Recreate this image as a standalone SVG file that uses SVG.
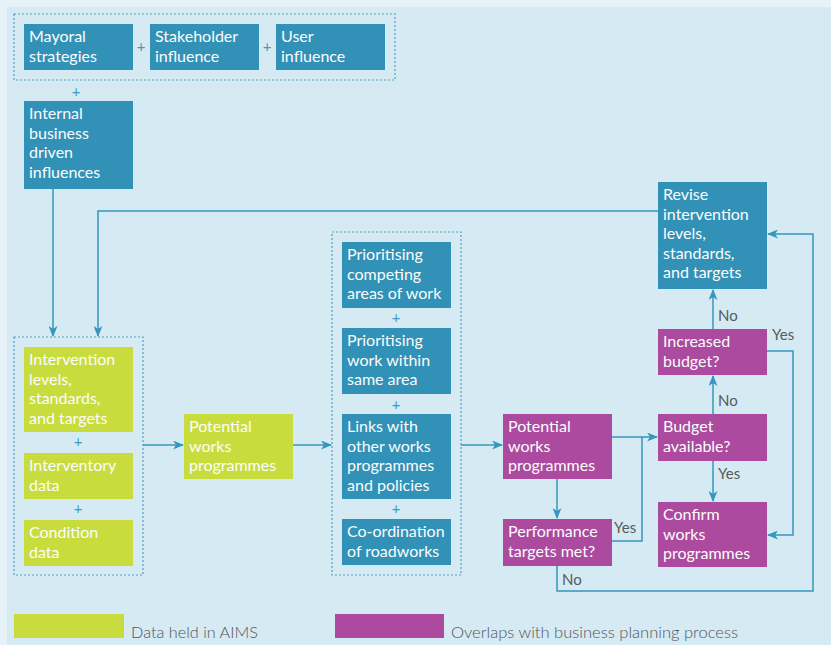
<svg xmlns="http://www.w3.org/2000/svg" width="831" height="645" viewBox="0 0 831 645">
  <defs>
    <marker id="arrow" markerWidth="11" markerHeight="9" refX="10" refY="4.5" orient="auto" markerUnits="userSpaceOnUse">
      <path d="M0,0 L11,4.5 L0,9 L3,4.5 Z" fill="#3597bd"/>
    </marker>
    <style>
      .bg { fill: #d6eaf4; }
      .blue { fill: #3291b7; }
      .green { fill: #c9dc3e; }
      .purple { fill: #ab4a9e; }
      .group { fill: none; stroke: #4f9fc0; stroke-width: 1.2; stroke-dasharray: 2 2; }
      .lbl { font-family: Lato, "Liberation Sans", sans-serif; font-size: 16px; fill: #fbfdfd; }
      .plus { font-family: Lato, "Liberation Sans", sans-serif; font-size: 15px; fill: #3a9cc2; text-anchor: middle; }
      .note { font-family: Lato, "Liberation Sans", sans-serif; font-size: 15px; fill: #555b5e; }
      .legend { font-family: Lato, "Liberation Sans", sans-serif; font-size: 15px; font-weight: 300; fill: #4f5558; }
      .wire { fill: none; stroke: #3597bd; stroke-width: 1.5; }
    </style>
  </defs>

  <!-- page -->
  <rect x="0" y="0" width="831" height="645" fill="#e6f2f8"/>
  <rect class="bg" x="7" y="7" width="824" height="638"/>

  <!-- dotted groupings -->
  <rect class="group" x="14" y="14" width="381" height="66"/>
  <rect class="group" x="14" y="337" width="129" height="238"/>
  <rect class="group" x="332" y="232" width="129" height="343"/>

  <!-- plus signs -->
  <g id="plus-signs">
    <text class="plus" x="141" y="52">+</text>
    <text class="plus" x="267" y="52">+</text>
    <text class="plus" x="76" y="97">+</text>
    <text class="plus" x="78" y="447">+</text>
    <text class="plus" x="78" y="514">+</text>
    <text class="plus" x="396" y="323">+</text>
    <text class="plus" x="396" y="410">+</text>
    <text class="plus" x="396" y="514">+</text>
  </g>

  <!-- connectors -->
  <g id="connectors">
    <path class="wire" d="M53,189 V336" marker-end="url(#arrow)"/>
    <path class="wire" d="M658,211 H98 V336" marker-end="url(#arrow)"/>
    <path class="wire" d="M143,445 H183" marker-end="url(#arrow)"/>
    <path class="wire" d="M293,445 H331" marker-end="url(#arrow)"/>
    <path class="wire" d="M461,445 H502" marker-end="url(#arrow)"/>
    <path class="wire" d="M612,437 H657" marker-end="url(#arrow)"/>
    <path class="wire" d="M557,479 V518" marker-end="url(#arrow)"/>
    <path class="wire" d="M612,541 H642 V437"/>
    <path class="wire" d="M557,566 V591 H813 V234 H768" marker-end="url(#arrow)"/>
    <path class="wire" d="M713,461 V501" marker-end="url(#arrow)"/>
    <path class="wire" d="M713,414 V376" marker-end="url(#arrow)"/>
    <path class="wire" d="M713,329 V290" marker-end="url(#arrow)"/>
    <path class="wire" d="M767,351 H793 V535 H768" marker-end="url(#arrow)"/>
  </g>

  <!-- connector labels -->
  <g id="connector-labels">
    <text class="note" x="718" y="321">No</text>
    <text class="note" x="772" y="340">Yes</text>
    <text class="note" x="718" y="406">No</text>
    <text class="note" x="718" y="479">Yes</text>
    <text class="note" x="614" y="533">Yes</text>
    <text class="note" x="562" y="585">No</text>
  </g>

  <!-- influences -->
  <g id="mayoral">
    <rect class="blue" x="24" y="24" width="109" height="46"/>
    <text class="lbl" x="29" y="42">Mayoral</text>
    <text class="lbl" x="29" y="61.5">strategies</text>
  </g>
  <g id="stakeholder">
    <rect class="blue" x="150" y="24" width="109" height="46"/>
    <text class="lbl" x="155" y="42">Stakeholder</text>
    <text class="lbl" x="155" y="61.5">influence</text>
  </g>
  <g id="user">
    <rect class="blue" x="276" y="24" width="109" height="46"/>
    <text class="lbl" x="281" y="42">User</text>
    <text class="lbl" x="281" y="61.5">influence</text>
  </g>
  <g id="internal">
    <rect class="blue" x="24" y="101" width="109" height="88"/>
    <text class="lbl" x="29" y="119">Internal</text>
    <text class="lbl" x="29" y="138.5">business</text>
    <text class="lbl" x="29" y="158">driven</text>
    <text class="lbl" x="29" y="177.5">influences</text>
  </g>

  <!-- AIMS data -->
  <g id="intervention">
    <rect class="green" x="24" y="347" width="109" height="85"/>
    <text class="lbl" x="29" y="365">Intervention</text>
    <text class="lbl" x="29" y="384.5">levels,</text>
    <text class="lbl" x="29" y="404">standards,</text>
    <text class="lbl" x="29" y="423.5">and targets</text>
  </g>
  <g id="interventory">
    <rect class="green" x="24" y="453" width="109" height="46"/>
    <text class="lbl" x="29" y="471">Interventory</text>
    <text class="lbl" x="29" y="490.5">data</text>
  </g>
  <g id="condition">
    <rect class="green" x="24" y="520" width="109" height="46"/>
    <text class="lbl" x="29" y="538">Condition</text>
    <text class="lbl" x="29" y="557.5">data</text>
  </g>
  <g id="potential-aims">
    <rect class="green" x="184" y="414" width="109" height="65"/>
    <text class="lbl" x="189" y="432">Potential</text>
    <text class="lbl" x="189" y="451.5">works</text>
    <text class="lbl" x="189" y="471">programmes</text>
  </g>

  <!-- prioritisation -->
  <g id="prioritising-areas">
    <rect class="blue" x="342" y="242" width="109" height="66"/>
    <text class="lbl" x="347" y="260">Prioritising</text>
    <text class="lbl" x="347" y="279.5">competing</text>
    <text class="lbl" x="347" y="299">areas of work</text>
  </g>
  <g id="prioritising-within">
    <rect class="blue" x="342" y="328" width="109" height="66"/>
    <text class="lbl" x="347" y="346">Prioritising</text>
    <text class="lbl" x="347" y="365.5">work within</text>
    <text class="lbl" x="347" y="385">same area</text>
  </g>
  <g id="links">
    <rect class="blue" x="342" y="414" width="109" height="85"/>
    <text class="lbl" x="347" y="432">Links with</text>
    <text class="lbl" x="347" y="451.5">other works</text>
    <text class="lbl" x="347" y="471">programmes</text>
    <text class="lbl" x="347" y="490.5">and policies</text>
  </g>
  <g id="coordination">
    <rect class="blue" x="342" y="519" width="109" height="46"/>
    <text class="lbl" x="347" y="537">Co-ordination</text>
    <text class="lbl" x="347" y="556.5">of roadworks</text>
  </g>

  <!-- business planning -->
  <g id="potential-plan">
    <rect class="purple" x="503" y="414" width="109" height="65"/>
    <text class="lbl" x="508" y="432">Potential</text>
    <text class="lbl" x="508" y="451.5">works</text>
    <text class="lbl" x="508" y="471">programmes</text>
  </g>
  <g id="performance">
    <rect class="purple" x="503" y="519" width="109" height="47"/>
    <text class="lbl" x="508" y="537">Performance</text>
    <text class="lbl" x="508" y="556.5">targets met?</text>
  </g>
  <g id="budget">
    <rect class="purple" x="658" y="414" width="109" height="47"/>
    <text class="lbl" x="663" y="432">Budget</text>
    <text class="lbl" x="663" y="451.5">available?</text>
  </g>
  <g id="confirm">
    <rect class="purple" x="658" y="502" width="109" height="65"/>
    <text class="lbl" x="663" y="520">Confirm</text>
    <text class="lbl" x="663" y="539.5">works</text>
    <text class="lbl" x="663" y="559">programmes</text>
  </g>
  <g id="increased">
    <rect class="purple" x="658" y="329" width="109" height="46"/>
    <text class="lbl" x="663" y="347">Increased</text>
    <text class="lbl" x="663" y="366.5">budget?</text>
  </g>
  <g id="revise">
    <rect class="blue" x="658" y="182" width="109" height="107"/>
    <text class="lbl" x="663" y="200">Revise</text>
    <text class="lbl" x="663" y="219.5">intervention</text>
    <text class="lbl" x="663" y="239">levels,</text>
    <text class="lbl" x="663" y="258.5">standards,</text>
    <text class="lbl" x="663" y="278">and targets</text>
  </g>

  <!-- legend -->
  <g id="legend">
    <rect class="green" x="14" y="614" width="110" height="24"/>
    <text class="legend" x="131" y="638" textLength="127" lengthAdjust="spacingAndGlyphs">Data held in AIMS</text>
    <rect class="purple" x="335" y="614" width="109" height="24"/>
    <text class="legend" x="451" y="638" textLength="287" lengthAdjust="spacingAndGlyphs">Overlaps with business planning process</text>
  </g>
</svg>
